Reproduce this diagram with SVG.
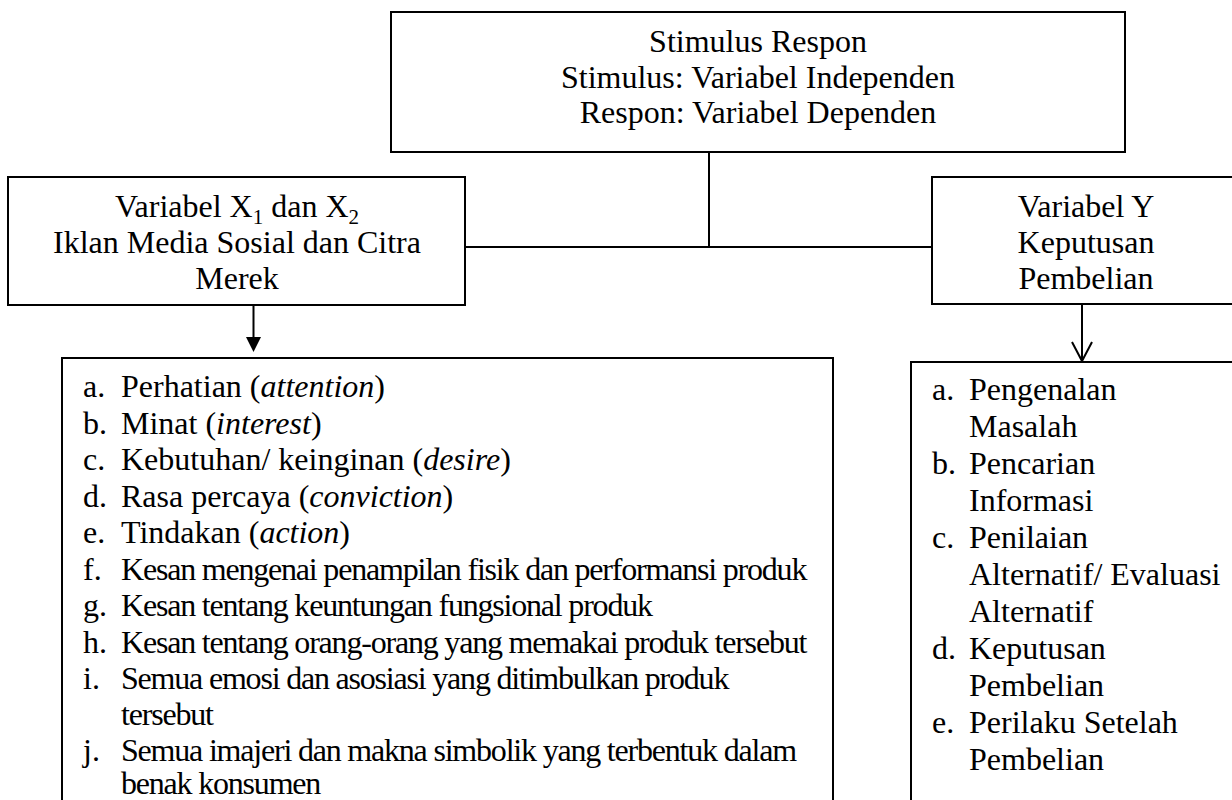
<svg xmlns="http://www.w3.org/2000/svg" width="1232" height="800" viewBox="0 0 1232 800">
<style>
.box{fill:#fff;stroke:#000;stroke-width:2}
.t{font-family:"Liberation Serif","Times New Roman",serif;font-size:32px;fill:#000}
.c{text-anchor:middle}
.cond{letter-spacing:-1.2px}
.i{font-style:italic}
.ln{stroke:#000;stroke-width:2;fill:none}
</style>
<rect x="0" y="0" width="1232" height="800" fill="#fff"/>
<g id="top">
<rect class="box" x="391" y="12" width="734" height="140"/>
<text class="t c" x="758" y="52">Stimulus Respon</text>
<text class="t c" x="758" y="88">Stimulus: Variabel Independen</text>
<text class="t c" x="758" y="123">Respon: Variabel Dependen</text>
</g>
<g id="connectors">
<line class="ln" x1="709" y1="152" x2="709" y2="247"/>
<line class="ln" x1="465" y1="247" x2="931" y2="247"/>
<line class="ln" x1="253.5" y1="305" x2="253.5" y2="340"/>
<polygon points="246,337 261,337 253.5,352" fill="#000"/>
<line class="ln" x1="1082" y1="304" x2="1082" y2="360"/>
<polyline class="ln" points="1072,342 1082,361 1092,342"/>
</g>
<g id="varX">
<rect class="box" x="8" y="177" width="457" height="128"/>
<text class="t c" x="237" y="217">Variabel X<tspan font-size="21" dy="7">1</tspan><tspan dy="-7"> dan X</tspan><tspan font-size="21" dy="7">2</tspan></text>
<text class="t c" x="237" y="253">Iklan Media Sosial dan Citra</text>
<text class="t c" x="237" y="289">Merek</text>
</g>
<g id="varY">
<rect class="box" x="932" y="177" width="320" height="127"/>
<text class="t c" x="1086" y="217">Variabel Y</text>
<text class="t c" x="1086" y="253">Keputusan</text>
<text class="t c" x="1086" y="289">Pembelian</text>
</g>
<g id="listX">
<rect class="box" x="62" y="358" width="771" height="470"/>
<text class="t" x="83" y="397">a.</text><text class="t" x="121" y="397">Perhatian (<tspan class="i">attention</tspan>)</text>
<text class="t" x="83" y="433.5">b.</text><text class="t" x="121" y="433.5">Minat (<tspan class="i">interest</tspan>)</text>
<text class="t" x="83" y="470">c.</text><text class="t" x="121" y="470">Kebutuhan/ keinginan (<tspan class="i">desire</tspan>)</text>
<text class="t" x="83" y="506.5">d.</text><text class="t" x="121" y="506.5">Rasa percaya (<tspan class="i">conviction</tspan>)</text>
<text class="t" x="83" y="543">e.</text><text class="t" x="121" y="543">Tindakan (<tspan class="i">action</tspan>)</text>
<text class="t" x="83" y="579.5">f.</text><text class="t cond" x="121" y="579.5">Kesan mengenai penampilan fisik dan performansi produk</text>
<text class="t" x="83" y="616">g.</text><text class="t cond" x="121" y="616">Kesan tentang keuntungan fungsional produk</text>
<text class="t" x="83" y="652.5">h.</text><text class="t cond" x="121" y="652.5">Kesan tentang orang-orang yang memakai produk tersebut</text>
<text class="t" x="83" y="689">i.</text><text class="t cond" x="121" y="689">Semua emosi dan asosiasi yang ditimbulkan produk</text>
<text class="t cond" x="121" y="725">tersebut</text>
<text class="t" x="83" y="761">j.</text><text class="t cond" x="121" y="761">Semua imajeri dan makna simbolik yang terbentuk dalam</text>
<text class="t cond" x="121" y="794">benak konsumen</text>
</g>
<g id="listY">
<rect class="box" x="911" y="362" width="340" height="466"/>
<text class="t" x="932" y="400">a.</text><text class="t" x="969" y="400">Pengenalan</text>
<text class="t" x="969" y="437">Masalah</text>
<text class="t" x="932" y="474">b.</text><text class="t" x="969" y="474">Pencarian</text>
<text class="t" x="969" y="511">Informasi</text>
<text class="t" x="932" y="548">c.</text><text class="t" x="969" y="548">Penilaian</text>
<text class="t" x="969" y="585">Alternatif/ Evaluasi</text>
<text class="t" x="969" y="622">Alternatif</text>
<text class="t" x="932" y="659">d.</text><text class="t" x="969" y="659">Keputusan</text>
<text class="t" x="969" y="696">Pembelian</text>
<text class="t" x="932" y="733">e.</text><text class="t" x="969" y="733">Perilaku Setelah</text>
<text class="t" x="969" y="770">Pembelian</text>
</g>
</svg>
